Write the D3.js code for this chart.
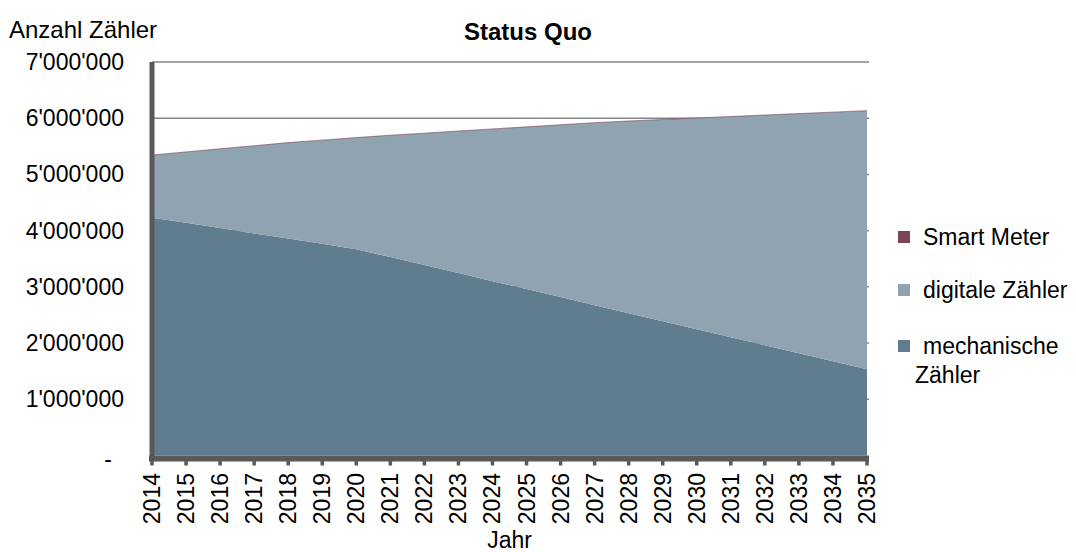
<!DOCTYPE html>
<html>
<head>
<meta charset="utf-8">
<script src="https://cdn.jsdelivr.net/npm/d3@7"></script>
<style>
  html, body { margin: 0; padding: 0; background: #ffffff; }
  svg { display: block; font-family: "Liberation Sans", Arial, sans-serif; }
</style>
</head>
<body>
<svg id="chart" width="1076" height="552"></svg>
<script>
// Years on the x axis
const years = [2014, 2015, 2016, 2017, 2018, 2019, 2020, 2021, 2022, 2023, 2024,
               2025, 2026, 2027, 2028, 2029, 2030, 2031, 2032, 2033, 2034, 2035];

// Meter counts per year, stacked bottom to top
const mechanischeZaehler = [4230000, 4140000, 4045000, 3950000, 3860000, 3765000, 3670000,
                            3530000, 3390000, 3245000, 3100000, 2960000, 2820000, 2675000,
                            2530000, 2390000, 2245000, 2105000, 1960000, 1820000, 1675000, 1535000];
const digitaleZaehler    = [1116000, 1260000, 1411000, 1560000, 1706000, 1845000, 1985000,
                            2167000, 2344000, 2527000, 2709000, 2886000, 3063000, 3245000,
                            3420000, 3587000, 3759000, 3925000, 4096000, 4262000, 4433000, 4599000];
const smartMeter         = [0, 0, 0, 0, 0, 0, 0, 0, 0, 0, 0, 0, 0, 0, 0, 0, 0, 0, 0, 0, 0, 0];

// Value axis ticks
const yTicks = [0, 1000000, 2000000, 3000000, 4000000, 5000000, 6000000, 7000000];

const seriesNames = ["mechanische Zähler", "digitale Zähler", "Smart Meter"];
const seriesColors = { "mechanische Zähler": "#5f7d8e", "digitale Zähler": "#8fa4b0", "Smart Meter": "#7b4356" };

const rows = years.map((yr, i) => ({
  year: yr,
  "mechanische Zähler": mechanischeZaehler[i],
  "digitale Zähler": digitaleZaehler[i],
  "Smart Meter": smartMeter[i]
}));

const svg = d3.select("#chart");
const x = d3.scaleLinear().domain([2014, 2035]).range([152, 867]);
const y = d3.scaleLinear().domain([0, 7000000]).range([455.5, 62]);

const swiss = d3.formatLocale({ decimal: ".", thousands: "'", grouping: [3], currency: ["", ""] });
const fmt = swiss.format(",d");

const axisColor = "#595959";
const font = 23;

// Horizontal gridlines
svg.append("g").selectAll("line").data(yTicks.filter(d => d > 0)).join("line")
  .attr("x1", x(2014)).attr("x2", x(2035) + 2)
  .attr("y1", d => y(d)).attr("y2", d => y(d))
  .attr("stroke", "#868686").attr("stroke-width", 1.5);

// Stacked areas
const stack = d3.stack().keys(seriesNames);
const layers = stack(rows);
const area = d3.area()
  .x(d => x(d.data.year))
  .y0(d => y(d[0]))
  .y1(d => y(d[1]));

svg.append("g").selectAll("path").data(layers).join("path")
  .attr("d", area)
  .attr("fill", d => seriesColors[d.key])
  .attr("stroke", d => d.key === "Smart Meter" ? seriesColors[d.key] : "none")
  .attr("stroke-opacity", 0.35)
  .attr("stroke-width", 1);

// Y axis line and labels
svg.append("line")
  .attr("x1", x(2014)).attr("x2", x(2014))
  .attr("y1", y(7000000)).attr("y2", y(0) + 6)
  .attr("stroke", axisColor).attr("stroke-width", 5);

svg.append("g").selectAll("text").data(yTicks).join("text")
  .attr("x", d => d === 0 ? 112 : 124)
  .attr("y", d => y(d) + (d === 0 ? 11 : 8))
  .attr("text-anchor", "end")
  .attr("font-size", font)
  .attr("fill", "#000")
  .text(d => d === 0 ? "-" : fmt(d));

// X axis line, ticks and labels
const xAxisY = y(0) + 3;
svg.append("line")
  .attr("x1", x(2014) - 3).attr("x2", x(2035) + 2)
  .attr("y1", xAxisY).attr("y2", xAxisY)
  .attr("stroke", axisColor).attr("stroke-width", 6);

svg.append("g").selectAll("line").data(years).join("line")
  .attr("x1", d => x(d)).attr("x2", d => x(d))
  .attr("y1", xAxisY).attr("y2", xAxisY + 7)
  .attr("stroke", axisColor).attr("stroke-width", 3.5);

svg.append("g").selectAll("text").data(years).join("text")
  .attr("transform", d => `translate(${x(d) + 8},${473}) rotate(-90)`)
  .attr("text-anchor", "end")
  .attr("font-size", font)
  .attr("fill", "#000")
  .text(d => d);

// Titles
svg.append("text")
  .attr("x", 528).attr("y", 40)
  .attr("text-anchor", "middle")
  .attr("font-size", 24)
  .attr("font-weight", "bold")
  .text("Status Quo");

svg.append("text")
  .attr("x", 9).attr("y", 38)
  .attr("font-size", 24)
  .text("Anzahl Zähler");

svg.append("text")
  .attr("x", (x(2014) + x(2035)) / 2).attr("y", 548)
  .attr("text-anchor", "middle")
  .attr("font-size", font)
  .text("Jahr");

// Legend
const legend = [
  { key: "Smart Meter", lines: ["Smart Meter"], y: 237 },
  { key: "digitale Zähler", lines: ["digitale Zähler"], y: 290 },
  { key: "mechanische Zähler", lines: ["mechanische", "Zähler"], y: 346 }
];
const lg = svg.append("g");
legend.forEach(item => {
  lg.append("rect")
    .attr("x", 898).attr("y", item.y - 6)
    .attr("width", 12).attr("height", 12)
    .attr("fill", seriesColors[item.key]);
  item.lines.forEach((ln, j) => {
    lg.append("text")
      .attr("x", j === 0 ? 923 : 915)
      .attr("y", item.y + 8 + j * 29)
      .attr("font-size", font)
      .text(ln);
  });
});
</script>
</body>
</html>
